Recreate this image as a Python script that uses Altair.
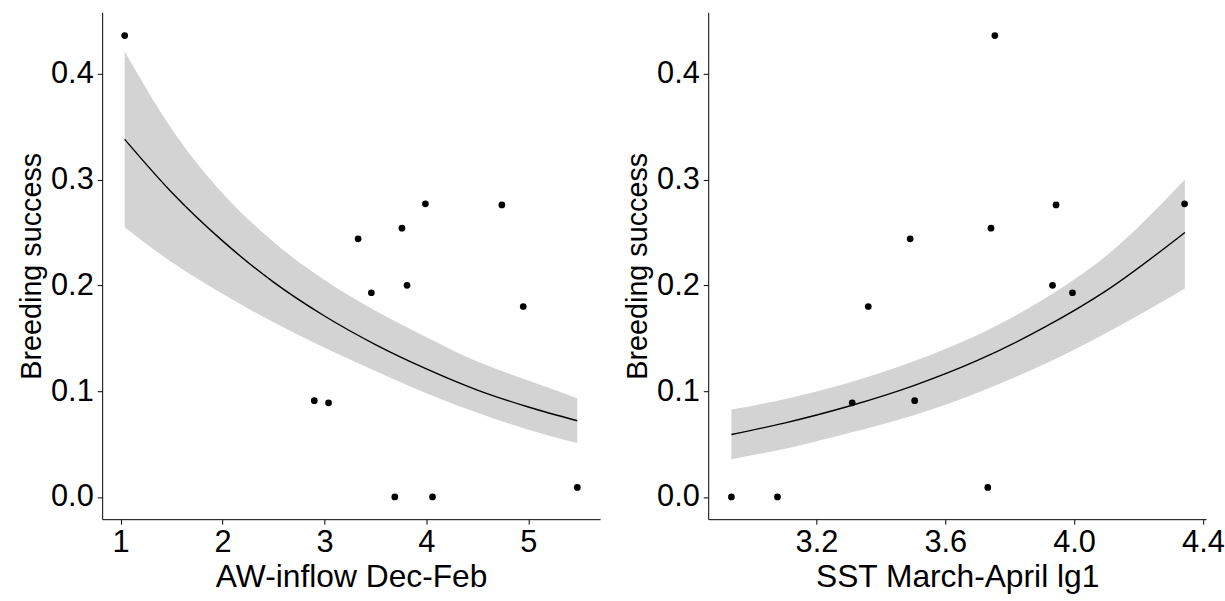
import altair as alt
import pandas as pd

breeding = [0.436, 0.244, 0.254, 0.277, 0.276, 0.193, 0.200, 0.180, 0.091, 0.089, 0.000, 0.000, 0.009]
aw_inflow = [1.04, 3.33, 3.76, 3.99, 4.74, 3.46, 3.81, 4.95, 2.90, 3.04, 3.69, 4.06, 5.48]
sst_lg1 = [3.754, 3.491, 3.742, 4.343, 3.944, 3.995, 3.933, 3.361, 3.505, 3.311, 2.936, 3.079, 3.732]

# ---- fitted curve and confidence band, left panel ----
aw_grid = [1.04, 1.5, 2.0, 2.5, 3.0, 3.5, 4.0, 4.5, 5.0, 5.48]
aw_fit = [0.338, 0.288, 0.242, 0.203, 0.171, 0.144, 0.121, 0.101, 0.085, 0.072]
aw_lo = [0.255, 0.222, 0.192, 0.165, 0.141, 0.119, 0.098, 0.0795, 0.0636, 0.051]
aw_hi = [0.421, 0.348, 0.287, 0.241, 0.205, 0.176, 0.151, 0.128, 0.110, 0.0934]

# ---- fitted curve and confidence band, right panel ----
sst_grid = [2.936, 3.1, 3.3, 3.5, 3.7, 3.9, 4.1, 4.344]
sst_fit = [0.059, 0.0698, 0.0857, 0.105, 0.129, 0.159, 0.195, 0.250]
sst_lo = [0.0357, 0.0454, 0.0604, 0.077, 0.0985, 0.1245, 0.155, 0.197]
sst_hi = [0.0826, 0.0924, 0.108, 0.128, 0.153, 0.186, 0.228, 0.300]

y_ticks = [0.0, 0.1, 0.2, 0.3, 0.4]
aw_ticks = [1, 2, 3, 4, 5]
sst_ticks = [3.2, 3.6, 4.0, 4.4]

FONT = "Liberation Sans"


def panel(px, py, gx, gfit, glo, ghi, xdomain, xticks, xfmt, xtitle):
    pts = pd.DataFrame({"x": px, "y": py})
    fit = pd.DataFrame({"x": gx, "y": gfit, "lo": glo, "hi": ghi})
    xenc = alt.X(
        "x:Q",
        title=xtitle,
        scale=alt.Scale(domain=xdomain, nice=False, zero=False),
        axis=alt.Axis(values=xticks, format=xfmt, labelFlush=False, labelOverlap=False),
    )
    yaxis = alt.Axis(values=y_ticks, format=".1f", labelFlush=False, labelOverlap=False)
    yscale = alt.Scale(domain=[-0.021, 0.458], nice=False, zero=False)
    band = alt.Chart(fit).mark_area(color="#d3d3d3", opacity=1, interpolate="monotone").encode(
        x=xenc,
        y=alt.Y("lo:Q", title="Breeding success", scale=yscale, axis=yaxis),
        y2="hi:Q",
    )
    line = alt.Chart(fit).mark_line(color="black", strokeWidth=1.4, interpolate="monotone").encode(
        x=xenc,
        y=alt.Y("y:Q", title="Breeding success", scale=yscale, axis=yaxis),
    )
    dots = alt.Chart(pts).mark_circle(color="black", size=46, opacity=1).encode(
        x=xenc,
        y=alt.Y("y:Q", title="Breeding success", scale=yscale, axis=yaxis),
    )
    return alt.layer(band, line, dots).properties(width=502, height=511)


left = panel(aw_inflow, breeding, aw_grid, aw_fit, aw_lo, aw_hi,
             [0.819, 5.704], aw_ticks, "d", "AW-inflow Dec-Feb")
right = panel(sst_lg1, breeding, sst_grid, sst_fit, sst_lo, sst_hi,
              [2.864, 4.41], sst_ticks, ".1f", "SST March-April lg1")

chart = (
    alt.hconcat(left, right, spacing=23)
    .properties(padding={"left": 17, "top": 10, "right": 0, "bottom": 0})
    .configure_view(stroke=None)
    .configure_axis(
        grid=False,
        domainColor="black",
        domainWidth=1,
        tickColor="black",
        tickWidth=1,
        tickSize=5,
        labelFont=FONT,
        labelFontSize=31,
        labelColor="black",
        labelPadding=4,
        titleFont=FONT,
        titleFontWeight="normal",
        titleColor="black",
        titlePadding=4,
    )
    .configure_axisX(titleFontSize=32)
    .configure_axisY(titleFontSize=29)
)

chart.save("out.html", embed_options={"renderer": "svg", "actions": False})
